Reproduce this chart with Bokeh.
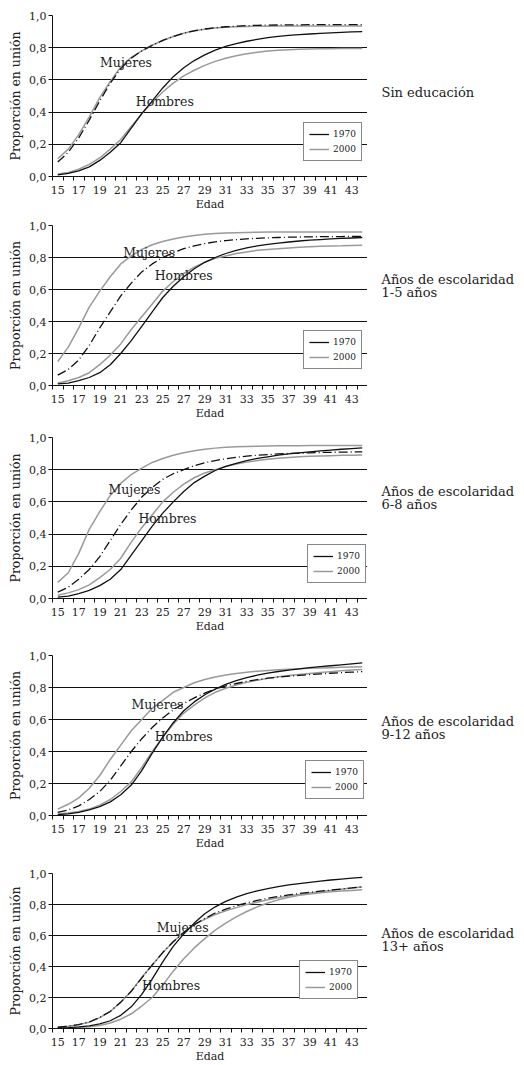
from bokeh.plotting import figure
from bokeh.layouts import column, row
from bokeh.models import FixedTicker, Label, Legend, LegendItem, Range1d
from bokeh.embed import file_html
from bokeh.resources import INLINE

FONT = "DejaVu Serif"

edad = list(range(15, 45))
x_label_ticks = list(range(15, 44, 2))
y_ticks = [0.0, 0.2, 0.4, 0.6, 0.8, 1.0]
y_tick_labels = ["0,0", "0,2", "0,4", "0,6", "0,8", "1,0"]
x_axis_title = "Edad"
y_axis_title = "Proporción en unión"
series_years = ["1970", "2000"]
group_names = ["Mujeres", "Hombres"]

# Panel 1: Sin educación
sin_muj_1970 = [0.09, 0.15, 0.24, 0.35, 0.47, 0.58, 0.67, 0.735, 0.78, 0.815, 0.845, 0.87, 0.89, 0.905, 0.916,
                0.924, 0.93, 0.934, 0.937, 0.939, 0.94, 0.941, 0.942, 0.942, 0.943, 0.943, 0.943, 0.943, 0.943, 0.943]
sin_muj_2000 = [0.11, 0.17, 0.26, 0.37, 0.49, 0.59, 0.68, 0.74, 0.78, 0.815, 0.845, 0.87, 0.89, 0.905, 0.915,
                0.922, 0.927, 0.93, 0.932, 0.933, 0.934, 0.935, 0.935, 0.935, 0.935, 0.935, 0.935, 0.935, 0.935, 0.935]
sin_hom_1970 = [0.01, 0.02, 0.035, 0.06, 0.10, 0.15, 0.21, 0.30, 0.39, 0.47, 0.55, 0.62, 0.675, 0.72, 0.755,
                0.785, 0.808, 0.826, 0.84, 0.852, 0.862, 0.87, 0.876, 0.881, 0.885, 0.889, 0.892, 0.895, 0.898, 0.90]
sin_hom_2000 = [0.015, 0.025, 0.045, 0.075, 0.115, 0.17, 0.23, 0.31, 0.39, 0.46, 0.525, 0.58, 0.625, 0.66, 0.69,
                0.715, 0.735, 0.75, 0.762, 0.772, 0.779, 0.784, 0.788, 0.79, 0.792, 0.793, 0.794, 0.795, 0.795, 0.795]

# Panel 2: 1-5 años
e15_muj_1970 = [0.065, 0.10, 0.16, 0.25, 0.36, 0.46, 0.56, 0.64, 0.71, 0.76, 0.80, 0.83, 0.855, 0.873, 0.887,
                0.898, 0.906, 0.912, 0.917, 0.92, 0.923, 0.925, 0.927, 0.928, 0.929, 0.93, 0.931, 0.931, 0.932, 0.932]
e15_muj_2000 = [0.15, 0.24, 0.36, 0.49, 0.59, 0.68, 0.76, 0.81, 0.85, 0.88, 0.90, 0.915, 0.928, 0.938, 0.945,
                0.95, 0.953, 0.955, 0.957, 0.958, 0.959, 0.96, 0.96, 0.96, 0.96, 0.96, 0.96, 0.96, 0.96, 0.96]
e15_hom_1970 = [0.01, 0.015, 0.03, 0.05, 0.08, 0.13, 0.20, 0.28, 0.37, 0.46, 0.55, 0.62, 0.68, 0.73, 0.77,
                0.80, 0.825, 0.845, 0.86, 0.872, 0.882, 0.89, 0.897, 0.903, 0.908, 0.912, 0.916, 0.919, 0.922, 0.925]
e15_hom_2000 = [0.015, 0.03, 0.05, 0.08, 0.13, 0.19, 0.26, 0.35, 0.43, 0.51, 0.59, 0.65, 0.70, 0.74, 0.77,
                0.795, 0.81, 0.825, 0.835, 0.845, 0.85, 0.855, 0.86, 0.864, 0.867, 0.87, 0.872, 0.873, 0.875, 0.876]

# Panel 3: 6-8 años
e68_muj_1970 = [0.04, 0.07, 0.12, 0.18, 0.26, 0.36, 0.46, 0.55, 0.63, 0.69, 0.74, 0.775, 0.80, 0.825, 0.843,
                0.857, 0.868, 0.877, 0.884, 0.89, 0.894, 0.898, 0.901, 0.903, 0.905, 0.907, 0.908, 0.909, 0.91, 0.911]
e68_muj_2000 = [0.10, 0.16, 0.28, 0.43, 0.54, 0.64, 0.715, 0.77, 0.81, 0.845, 0.87, 0.89, 0.905, 0.918, 0.927,
                0.934, 0.939, 0.942, 0.944, 0.946, 0.947, 0.948, 0.949, 0.949, 0.95, 0.95, 0.95, 0.95, 0.95, 0.95]
e68_hom_1970 = [0.008, 0.015, 0.03, 0.05, 0.08, 0.12, 0.18, 0.27, 0.36, 0.45, 0.53, 0.60, 0.665, 0.72, 0.76,
                0.795, 0.82, 0.84, 0.857, 0.87, 0.88, 0.89, 0.898, 0.905, 0.911, 0.917, 0.922, 0.927, 0.931, 0.935]
e68_hom_2000 = [0.02, 0.035, 0.055, 0.085, 0.13, 0.18, 0.25, 0.35, 0.44, 0.52, 0.60, 0.66, 0.71, 0.75, 0.78,
                0.80, 0.82, 0.835, 0.847, 0.857, 0.865, 0.871, 0.876, 0.88, 0.883, 0.885, 0.887, 0.889, 0.89, 0.891]

# Panel 4: 9-12 años
e912_muj_1970 = [0.02, 0.035, 0.06, 0.10, 0.15, 0.22, 0.31, 0.40, 0.48, 0.55, 0.61, 0.66, 0.70, 0.735, 0.765,
                 0.79, 0.81, 0.825, 0.838, 0.849, 0.858, 0.865, 0.871, 0.876, 0.881, 0.885, 0.889, 0.893, 0.896, 0.899]
e912_muj_2000 = [0.04, 0.07, 0.11, 0.17, 0.25, 0.35, 0.44, 0.53, 0.60, 0.67, 0.72, 0.77, 0.80, 0.83, 0.85,
                 0.865, 0.878, 0.888, 0.896, 0.902, 0.907, 0.911, 0.914, 0.917, 0.92, 0.922, 0.924, 0.926, 0.928, 0.93]
e912_hom_1970 = [0.005, 0.01, 0.02, 0.035, 0.055, 0.085, 0.13, 0.19, 0.28, 0.39, 0.49, 0.58, 0.655, 0.71, 0.755,
                 0.79, 0.82, 0.843, 0.862, 0.877, 0.89, 0.90, 0.909, 0.917, 0.924, 0.93, 0.936, 0.942, 0.948, 0.954]
e912_hom_2000 = [0.01, 0.015, 0.025, 0.04, 0.065, 0.10, 0.15, 0.21, 0.30, 0.40, 0.49, 0.57, 0.64, 0.69, 0.735,
                 0.77, 0.795, 0.815, 0.832, 0.846, 0.857, 0.867, 0.875, 0.882, 0.888, 0.894, 0.899, 0.904, 0.909, 0.913]

# Panel 5: 13+ años
e13_muj_1970 = [0.008, 0.015, 0.025, 0.042, 0.072, 0.11, 0.17, 0.24, 0.325, 0.41, 0.49, 0.56, 0.62, 0.67, 0.71,
                0.745, 0.77, 0.792, 0.81, 0.826, 0.84, 0.852, 0.862, 0.871, 0.879, 0.886, 0.893, 0.90, 0.907, 0.915]
e13_muj_2000 = [0.008, 0.015, 0.025, 0.04, 0.07, 0.11, 0.17, 0.24, 0.33, 0.41, 0.49, 0.56, 0.62, 0.67, 0.705,
                0.735, 0.76, 0.78, 0.80, 0.815, 0.83, 0.843, 0.855, 0.865, 0.874, 0.882, 0.89, 0.898, 0.906, 0.913]
e13_hom_1970 = [0.003, 0.005, 0.01, 0.017, 0.03, 0.05, 0.085, 0.14, 0.22, 0.32, 0.43, 0.53, 0.61, 0.68, 0.74,
                0.785, 0.82, 0.848, 0.87, 0.888, 0.903, 0.915, 0.926, 0.935, 0.943, 0.951, 0.958, 0.964, 0.97, 0.975]
e13_hom_2000 = [0.002, 0.004, 0.007, 0.012, 0.02, 0.035, 0.06, 0.095, 0.145, 0.20, 0.28, 0.37, 0.45, 0.52, 0.58,
                0.635, 0.68, 0.72, 0.755, 0.785, 0.81, 0.83, 0.846, 0.859, 0.868, 0.876, 0.882, 0.887, 0.891, 0.895]

panel_titles = [
    ["Sin educación"],
    ["Años de escolaridad", "1-5 años"],
    ["Años de escolaridad", "6-8 años"],
    ["Años de escolaridad", "9-12 años"],
    ["Años de escolaridad", "13+ años"],
]
# text label anchors (Mujeres, Hombres) in data units
muj_label_pos = [(21.5, 0.705), (23.7, 0.833), (22.3, 0.68), (24.5, 0.694), (26.9, 0.654)]
hom_label_pos = [(25.2, 0.465), (27.0, 0.69), (25.45, 0.50), (27.0, 0.494), (25.8, 0.277)]

panels = [
    (sin_muj_1970, sin_muj_2000, sin_hom_1970, sin_hom_2000),
    (e15_muj_1970, e15_muj_2000, e15_hom_1970, e15_hom_2000),
    (e68_muj_1970, e68_muj_2000, e68_hom_1970, e68_hom_2000),
    (e912_muj_1970, e912_muj_2000, e912_hom_1970, e912_hom_2000),
    (e13_muj_1970, e13_muj_2000, e13_hom_1970, e13_hom_2000),
]

# layout: (height, top border, bottom border)
sizes = [(213, 15, 34), (209, 12, 34), (213, 15, 34), (217, 20, 34), (213, 21, 34)]
legend_loc = [(251, 15), (251, 16), (255, 15), (253, 16), (247, 29)]
# title line centres, px from the top of each panel row
title_rows = [[102], [70, 87], [71, 88], [90, 107], [83, 100]]

BLACK = "#111111"
GRAY = "#9a9a9a"
TXT = "#222222"
LEFT = 52
PLOT_W = 367
SIDE_W = 524 - PLOT_W

rows = []
for i, (m70, m00, h70, h00) in enumerate(panels):
    h, bt, bb = sizes[i]
    p = figure(width=PLOT_W, height=h, output_backend="svg", toolbar_location=None,
               x_range=Range1d(14.5, 44.5), y_range=Range1d(0, 1.0),
               min_border_left=LEFT, min_border_right=0,
               min_border_top=bt, min_border_bottom=bb)
    p.outline_line_color = None
    p.xgrid.visible = False
    p.ygrid.ticker = FixedTicker(ticks=y_ticks)
    p.ygrid.grid_line_color = BLACK
    p.ygrid.grid_line_width = 1

    xa = p.xaxis[0]
    xa.ticker = FixedTicker(ticks=x_label_ticks, minor_ticks=[v + 0.5 for v in range(14, 45)])
    xa.major_tick_out = 0
    xa.major_tick_in = 0
    xa.minor_tick_out = 4
    xa.minor_tick_in = 0
    xa.minor_tick_line_color = BLACK
    xa.axis_line_color = BLACK
    xa.major_label_standoff = 5
    xa.major_label_text_font = FONT
    xa.major_label_text_font_size = "11px"
    xa.major_label_text_color = TXT
    xa.axis_label = x_axis_title
    xa.axis_label_text_font = FONT
    xa.axis_label_text_font_size = "11px"
    xa.axis_label_text_font_style = "normal"
    xa.axis_label_text_color = TXT
    xa.axis_label_standoff = 1

    ya = p.yaxis[0]
    ya.ticker = FixedTicker(ticks=y_ticks, minor_ticks=[])
    ya.major_label_overrides = {t: l for t, l in zip(y_ticks, y_tick_labels)}
    ya.major_tick_out = 4
    ya.major_tick_in = 0
    ya.minor_tick_out = 0
    ya.axis_line_color = BLACK
    ya.major_tick_line_color = BLACK
    ya.major_label_standoff = 2
    ya.major_label_text_font = FONT
    ya.major_label_text_font_size = "11px"
    ya.major_label_text_color = TXT
    ya.axis_label = y_axis_title
    ya.axis_label_text_font = FONT
    ya.axis_label_text_font_size = "12.5px"
    ya.axis_label_text_font_style = "normal"
    ya.axis_label_text_color = TXT
    ya.axis_label_standoff = 3

    r_h00 = p.line(edad, h00, line_color=GRAY, line_width=1.5)
    r_m00 = p.line(edad, m00, line_color=GRAY, line_width=1.5)
    r_h70 = p.line(edad, h70, line_color=BLACK, line_width=1.3)
    r_m70 = p.line(edad, m70, line_color=BLACK, line_width=1.3, line_dash="9 3 1 3")

    mx, my = muj_label_pos[i]
    hx, hy = hom_label_pos[i]
    for (tx, ty), txt in (((mx, my), group_names[0]), ((hx, hy), group_names[1])):
        p.add_layout(Label(x=tx, y=ty, text=txt, text_font=FONT, text_font_size="12.5px",
                           text_align="center", text_baseline="middle", text_color=TXT))

    leg = Legend(items=[LegendItem(label=series_years[0], renderers=[r_h70]),
                        LegendItem(label=series_years[1], renderers=[r_h00])],
                 location=legend_loc[i])
    leg.border_line_color = BLACK
    leg.border_line_width = 1
    leg.background_fill_color = "white"
    leg.background_fill_alpha = 1.0
    leg.label_text_font = FONT
    leg.label_text_font_size = "9px"
    leg.label_text_color = TXT
    leg.glyph_width = 20
    leg.glyph_height = 12
    leg.label_height = 12
    leg.label_width = 20
    leg.label_standoff = 4
    leg.spacing = 3
    leg.padding = 5
    leg.margin = 0
    p.add_layout(leg)

    side = figure(width=SIDE_W, height=h, output_backend="svg", toolbar_location=None,
                  x_range=Range1d(0, SIDE_W), y_range=Range1d(0, h),
                  x_axis_location=None, y_axis_location=None,
                  min_border_left=0, min_border_right=0, min_border_top=0, min_border_bottom=0)
    side.outline_line_color = None
    side.grid.visible = False
    for line_txt, yy in zip(panel_titles[i], title_rows[i]):
        side.add_layout(Label(x=14, y=h - yy, text=line_txt, text_font=FONT, text_font_size="13px",
                              text_align="left", text_baseline="middle", text_color=TXT))
    rows.append(row(p, side, spacing=0))

layout = column(*rows, spacing=0)
open("out.html", "w").write(file_html(layout, INLINE))
